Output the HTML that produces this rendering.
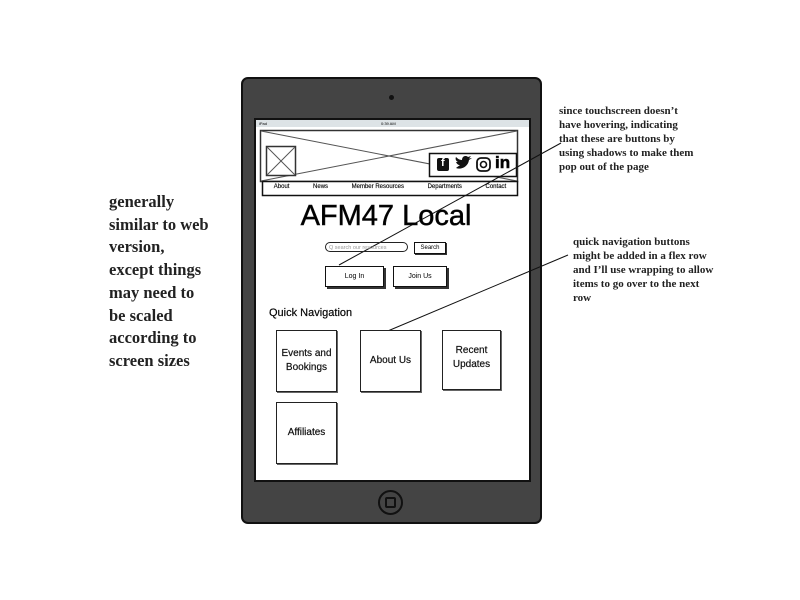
<!DOCTYPE html>
<html><head><meta charset="utf-8"><style>
body{margin:0;width:800px;height:600px;background:#fff;position:relative;overflow:hidden;font-family:"Liberation Sans",sans-serif}
.a{position:absolute}
.serif{font-family:"Liberation Serif",serif;font-weight:bold;color:#222}
.btn{position:absolute;border:1.5px solid #111;background:#fff;box-shadow:2px 2px 0 #333;font-size:7px;display:flex;align-items:center;justify-content:center}
.box{position:absolute;border:1.5px solid #222;background:#fff;box-shadow:1px 1px 0 #666;font-size:10px;display:flex;align-items:center;justify-content:center;text-align:center;line-height:14px;color:#111;-webkit-text-stroke:0.2px #111}
</style></head><body>
<div class="a serif" style="left:109px;top:191px;font-size:16.5px;line-height:22.7px">generally<br>similar to web<br>version,<br>except things<br>may need to<br>be scaled<br>according to<br>screen sizes</div>
<div class="a serif" style="left:559px;top:104px;font-size:11px;line-height:14px">since touchscreen doesn’t<br>have hovering, indicating<br>that these are buttons by<br>using shadows to make them<br>pop out of the page</div>
<div class="a serif" style="left:573px;top:235px;font-size:11px;line-height:14px">quick navigation buttons<br>might be added in a flex row<br>and I’ll use wrapping to allow<br>items to go over to the next<br>row</div>
<div class="a" style="left:241px;top:77px;width:297px;height:443px;background:#444;border:2px solid #111;border-radius:7px"></div>
<div class="a" style="left:389px;top:95px;width:5px;height:5px;border-radius:50%;background:#111"></div>
<div class="a" style="left:378px;top:490px;width:21px;height:21px;border-radius:50%;border:2px solid #111"></div>
<div class="a" style="left:385px;top:497px;width:7px;height:7px;border-radius:2px;border:2px solid #111"></div>
<div class="a" style="left:254px;top:118px;width:273px;height:360px;background:#fff;border:2px solid #111"></div>
<div class="a" style="left:256px;top:120px;width:273px;height:7px;background:#dde3e6;font-size:4px;line-height:7px"><span style="margin-left:3px">iPad</span><span style="position:absolute;left:125px">0:39 AM</span></div>
<svg class="a" style="left:0;top:0" width="800" height="600">
<rect x="260.5" y="130.5" width="257" height="51" fill="none" stroke="#333" stroke-width="1.5"/>
<line x1="261" y1="131" x2="517" y2="181" stroke="#555"/><line x1="517" y1="131" x2="261" y2="181" stroke="#555"/>
<rect x="266.5" y="146.5" width="29" height="29" fill="#fff" stroke="#333" stroke-width="1.5"/>
<line x1="267" y1="147" x2="295" y2="175" stroke="#555"/><line x1="295" y1="147" x2="267" y2="175" stroke="#555"/>
<rect x="429.5" y="153.5" width="87" height="23" fill="#fff" stroke="#111" stroke-width="1.5"/>
<rect x="262.5" y="181.5" width="255" height="14" fill="#fff" stroke="#111" stroke-width="1.5"/>
<rect x="437" y="158" width="12" height="13" rx="2" fill="#111"/>
<path d="M456 168 C461 170 468 167 469 160 L472 158 L469 158.5 L471 156 L468 157 C466 155 462 156 462 160 C459 160 457 158 456 157 C455 159 456 161 458 162 L456 162 C457 164 458 165 460 165 C459 166 457 167 456 168 Z" fill="#111"/>
<rect x="477" y="158" width="13" height="13" rx="4" fill="none" stroke="#111" stroke-width="1.8"/><circle cx="483.5" cy="164.5" r="3" fill="none" stroke="#111" stroke-width="1.6"/>
<line x1="561" y1="143" x2="339" y2="265" stroke="#111"/>
<line x1="568" y1="255" x2="383" y2="333" stroke="#111"/>
</svg>
<div class="a" style="left:495px;top:153px;font-size:17px;font-weight:bold;-webkit-text-stroke:0.6px #111">in</div>
<div class="a" style="left:441px;top:157px;font-size:11px;font-weight:bold;color:#fff">f</div>
<div class="a" style="left:262px;top:184px;width:256px;font-size:6px;display:flex;justify-content:space-around;-webkit-text-stroke:0.15px #111"><span>About</span><span>News</span><span>Member Resources</span><span>Departments</span><span>Contact</span></div>
<div class="a" style="left:290px;top:200px;width:192px;text-align:center;font-size:29px;-webkit-text-stroke:0.5px #111">AFM47 Local</div>
<div class="a" style="left:325px;top:242px;width:83px;height:10px;border:1.3px solid #222;border-radius:6px;font-size:5.5px;line-height:10px;color:#999;padding-left:3px;box-sizing:border-box">Q search our resources</div>
<div class="btn" style="left:414px;top:242px;width:30px;height:10px;font-size:6px;box-shadow:1px 1px 0 #333">Search</div>
<div class="btn" style="left:325px;top:266px;width:57px;height:19px">Log In</div>
<div class="btn" style="left:393px;top:266px;width:52px;height:19px">Join Us</div>
<div class="a" style="left:269px;top:307px;font-size:11px;-webkit-text-stroke:0.2px #111">Quick Navigation</div>
<div class="box" style="left:276px;top:330px;width:59px;height:60px">Events and<br>Bookings</div>
<div class="box" style="left:360px;top:330px;width:59px;height:60px">About Us</div>
<div class="box" style="left:442px;top:330px;width:59px;height:60px;padding-bottom:4px;box-sizing:border-box">Recent<br>Updates</div>
<div class="box" style="left:276px;top:402px;width:59px;height:60px">Affiliates</div>
</body></html>
